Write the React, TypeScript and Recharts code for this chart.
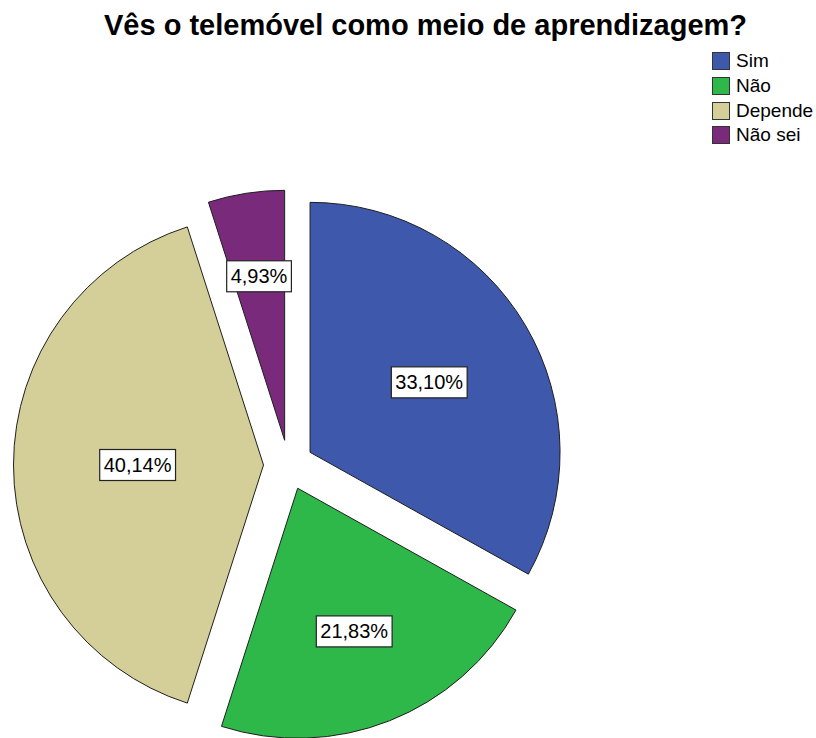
import React from "react";
import { PieChart, Pie, Cell, Legend, Sector } from "recharts";

const TITLE = "Vês o telemóvel como meio de aprendizagem?";
const CATEGORIES = ["Sim", "Não", "Depende", "Não sei"];
const PERCENTS = [33.1, 21.83, 40.14, 4.93];
const COLORS = ["#3e58ab", "#2eb84a", "#d4cf98", "#7a2a7b"];

const FONT = "'Liberation Sans', Arial, sans-serif";
const EXPLODE = 25;
const RADIAN = Math.PI / 180;

const data = CATEGORIES.map((name, i) => ({ name, value: PERCENTS[i] }));

const fmt = (v: number) => v.toFixed(2).replace(".", ",") + "%";

const shift = (mid: number, d: number) => ({
    dx: Math.cos(-mid * RADIAN) * d,
    dy: Math.sin(-mid * RADIAN) * d,
});

const ExplodedSector = (props: any) => {
    const { cx, cy, midAngle } = props;
    const { dx, dy } = shift(midAngle, EXPLODE);
    return <Sector {...props} cx={cx + dx} cy={cy + dy} />;
};

const renderLabel = (props: any) => {
    const { cx, cy, midAngle, startAngle, endAngle, outerRadius, value } = props;
    const half = (Math.abs(endAngle - startAngle) / 2) * RADIAN;
    // label sits on the centroid of the sector
    const dist = (2 * outerRadius * Math.sin(half)) / (3 * half);
    const { dx, dy } = shift(midAngle, EXPLODE + dist);
    const x = cx + dx;
    const y = cy + dy;
    const text = fmt(value);
    const fs = 20;
    const digits = text.length - 2;
    const w = digits * fs * 0.556 + fs * 0.278 + fs * 0.889 + 8;
    const h = 31;
    return (
        <g>
            <rect x={x - w / 2} y={y - h / 2} width={w} height={h} fill="#fff" stroke="#222" strokeWidth={1.2} />
            <text x={x} y={y + 7} textAnchor="middle" fontFamily={FONT} fontSize={fs} fill="#000">
                {text}
            </text>
        </g>
    );
};

const renderLegend = (props: any) => {
    const items = [...(props.payload || [])].sort(
        (a: any, b: any) => CATEGORIES.indexOf(a.value) - CATEGORIES.indexOf(b.value)
    );
    return (
        <div style={{ fontFamily: FONT, fontSize: 19, color: "#000" }}>
            {items.map((entry: any, i: number) => (
                <div key={`item-${i}`} style={{ display: "flex", alignItems: "center", height: 24.7 }}>
                    <span
                        style={{
                            display: "inline-block",
                            width: 16,
                            height: 16,
                            background: entry.color,
                            border: "1px solid #333",
                            marginRight: 6,
                        }}
                    />
                    <span>{entry.value}</span>
                </div>
            ))}
        </div>
    );
};

export default function App() {
    return (
        <div style={{ position: "absolute", left: 0, top: 0, width: 816, height: 738, background: "#fff" }}>
            <svg width={816} height={50} style={{ position: "absolute", left: 0, top: 0 }}>
                <text x={425.5} y={35} textAnchor="middle" fontFamily={FONT} fontWeight="bold" fontSize={29} fill="#000">
                    {TITLE}
                </text>
            </svg>
            <div style={{ position: "absolute", left: 0, top: 0 }}>
                <PieChart width={816} height={738} margin={{ top: 0, right: 0, bottom: 0, left: 0 }}>
                    <Pie
                        data={data}
                        dataKey="value"
                        nameKey="name"
                        cx={288.5}
                        cy={465}
                        outerRadius={250}
                        startAngle={90}
                        endAngle={-270}
                        stroke="#1e1e1e"
                        strokeWidth={1}
                        shape={ExplodedSector}
                        label={renderLabel}
                        labelLine={false}
                        isAnimationActive={false}
                    >
                        {data.map((entry, index) => (
                            <Cell key={`cell-${index}`} fill={COLORS[index % COLORS.length]} />
                        ))}
                    </Pie>
                    <Legend
                        layout="vertical"
                        align="right"
                        verticalAlign="top"
                        content={renderLegend}
                        wrapperStyle={{ left: 712, top: 49, width: 104 }}
                    />
                </PieChart>
            </div>
        </div>
    );
}
